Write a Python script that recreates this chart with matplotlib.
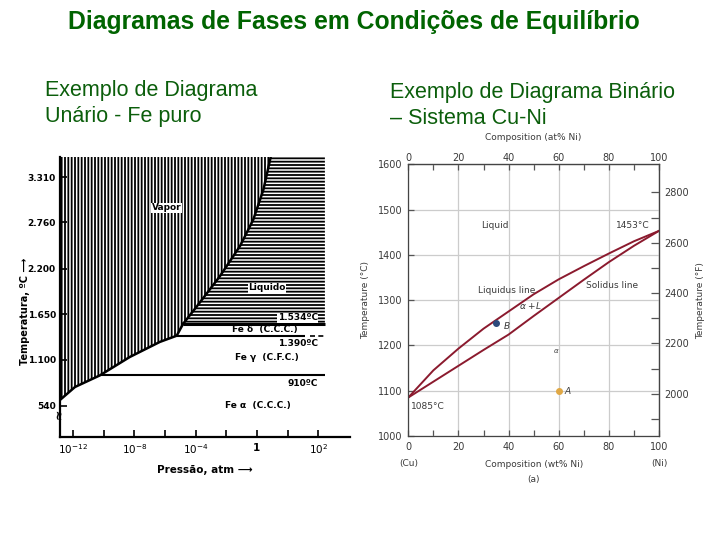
import matplotlib.pyplot as plt
import numpy as np

plt.rcParams['font.family'] = ['DejaVu Sans']
plt.rcParams['hatch.linewidth'] = 1.3

# --- Fe puro (diagrama unario) ---
# eixo x: posicao na escala de pressao (uma divisao = uma marca do grafico)
pressao_marcas = [0, 2, 4, 6, 8]
pressao_rotulos = ['$10^{-12}$', '$10^{-8}$', '$10^{-4}$', '1', '$10^{2}$']
pressao_menores = [1, 3, 5, 7]
temp_marcas = [540, 1100, 1650, 2200, 2760, 3310]
temp_rotulos = ['540', '1.100', '1.650', '2.200', '2.760', '3.310']

# curva solido/vapor e liquido/vapor
sub_x = [-0.43, 0.06, 0.87, 1.85, 2.83, 3.38, 3.59]
sub_t = [613, 770, 910, 1133, 1315, 1390, 1534]
vap_x = [3.59, 4.03, 4.79, 5.45, 5.88, 6.21, 6.45]
vap_t = [1534, 1741, 2109, 2476, 2793, 3154, 3552]

# transicoes a temperatura constante
trans_t = [1534, 1390, 910]
trans_x0 = [3.59, 3.38, 0.87]
trans_x1 = [8.22, 7.57, 8.22]

# --- Cu-Ni (diagrama binario) ---
wt_ni = [0, 10, 20, 30, 40, 50, 60, 70, 80, 90, 100]
liquidus = [1085, 1145, 1193, 1237, 1275, 1313, 1346, 1375, 1403, 1430, 1453]
solidus = [1085, 1120, 1155, 1190, 1224, 1265, 1305, 1345, 1384, 1420, 1453]
ponto_A = (60, 1100)
ponto_B = (35, 1250)

verde = '#006400'
verde2 = '#0b5e0b'

fig = plt.figure(figsize=(7.2, 5.4), dpi=100)

fig.text(354 / 720, 1 - 29 / 540, 'Diagramas de Fases em Condições de Equilíbrio',
         ha='center', va='baseline', fontsize=17.8, fontweight='bold', color=verde,
         family='Liberation Sans')
sub = dict(ha='left', va='baseline', fontsize=15.5, color=verde2, family='Liberation Sans')
fig.text(45 / 720, 1 - 96 / 540, 'Exemplo de Diagrama', **sub)
fig.text(45 / 720, 1 - 122 / 540, 'Unário - Fe puro', **sub)
fig.text(390 / 720, 1 - 98 / 540, 'Exemplo de Diagrama Binário', **sub)
fig.text(390 / 720, 1 - 124 / 540, '– Sistema Cu-Ni', **sub)

# ---------------- grafico da esquerda ----------------
ax1 = fig.add_axes([60 / 720, 1 - 437 / 540, 290 / 720, 280 / 540])
xmin, xmax = -0.43, 9.04
tmin, tmax = 165, 3552
borda = 8.22

# regiao do vapor (hachura vertical)
vx = [xmin] + sub_x + vap_x[1:] + [xmin]
vy = [tmax] + sub_t + vap_t[1:] + [tmax]
ax1.fill(vx, vy, facecolor='white', edgecolor='black', hatch='|||||', lw=0)
# regiao do liquido (hachura horizontal)
lx = vap_x + [borda, borda]
ly = vap_t + [tmax, vap_t[0]]
ax1.fill(lx, ly, facecolor='white', edgecolor='black', hatch='-----', lw=0)

ax1.plot(sub_x, sub_t, color='black', lw=1.8)
ax1.plot(vap_x, vap_t, color='black', lw=1.8)
ax1.hlines(trans_t, trans_x0, trans_x1, colors='black', lw=[2.2, 1.5, 1.5])
ax1.plot([7.75, 8.2], [1390, 1390], color='black', lw=1.2, ls=(0, (3, 2)))

ax1.set_xlim(xmin, xmax)
ax1.set_ylim(tmin, tmax)
ax1.set_xticks(pressao_marcas, pressao_rotulos)
ax1.set_xticks(pressao_menores, minor=True)
ax1.set_yticks(temp_marcas, temp_rotulos)
ax1.tick_params(axis='both', which='both', direction='in', length=5, width=1.2,
                labelsize=6.5)
ax1.tick_params(axis='y', pad=3)
ax1.tick_params(axis='x', labelsize=7.5, pad=4)
for lab in ax1.get_xticklabels() + ax1.get_yticklabels():
    lab.set_fontweight('bold')
for s in ['top', 'right']:
    ax1.spines[s].set_visible(False)
for s in ['left', 'bottom']:
    ax1.spines[s].set_linewidth(1.6)
ax1.set_xlabel('Pressão, atm ⟶', fontsize=7.5, fontweight='bold', labelpad=6)
ax1.set_ylabel('Temperatura, ºC ⟶', fontsize=7, fontweight='bold')
ax1.yaxis.set_label_coords(-0.105, 0.45)
ax1.text(xmin, 450, '≈', ha='center', va='center', fontsize=9, fontweight='bold',
         rotation=90, clip_on=False)

kw = dict(fontsize=6.5, fontweight='bold', ha='center', va='center')
ax1.text(3.06, 2936, 'Vapor', bbox=dict(fc='white', ec='none', pad=0.5), **kw)
ax1.text(6.33, 1968, 'Liquido', bbox=dict(fc='white', ec='none', pad=0.5), **kw)
ax1.text(7.34, 1605, '1.534ºC', bbox=dict(fc='white', ec='none', pad=0.3), **kw)
ax1.text(6.26, 1460, 'Fe δ  (C.C.C.)', **kw)
ax1.text(7.34, 1302, '1.390ºC', **kw)
ax1.text(6.33, 1121, 'Fe γ  (C.F.C.)', **kw)
ax1.text(7.5, 818, '910ºC', **kw)
ax1.text(6.04, 540, 'Fe α  (C.C.C.)', **kw)

# ---------------- grafico da direita ----------------
cinza = '#3a3a3a'
ax2 = fig.add_axes([408.3 / 720, 1 - 436 / 540, 250.7 / 720, 271.7 / 540])
ax2.plot(wt_ni, liquidus, color='#8b1a2e', lw=1.4)
ax2.plot(wt_ni, solidus, color='#8b1a2e', lw=1.4)
ax2.plot(*ponto_B, 'o', color='#2c4a7c', ms=4)
ax2.plot(*ponto_A, 'o', color='#e0a845', ms=4)

ax2.set_xlim(0, 100)
ax2.set_ylim(1000, 1600)
ax2.set_xticks(range(0, 101, 20))
ax2.set_xticks(range(10, 100, 20), minor=True)
ax2.set_yticks(range(1000, 1601, 100))
ax2.grid(True, which='major', color='#cccccc', lw=0.9)
ax2.set_axisbelow(True)
ax2.tick_params(which='both', direction='in', length=4, width=0.9, colors='#555555',
                labelcolor=cinza, labelsize=7, top=True, pad=4)
for s in ax2.spines.values():
    s.set_color('#444444')
    s.set_linewidth(0.9)

sec_x = ax2.secondary_xaxis('top')
sec_x.set_xticks(range(0, 101, 20))
sec_x.tick_params(direction='in', length=0, labelcolor=cinza, labelsize=7, pad=1)
sec_x.set_xlabel('Composition (at% Ni)', fontsize=6.5, color=cinza, labelpad=9)

sec_y = ax2.secondary_yaxis('right', functions=(lambda c: c * 9 / 5 + 32,
                                                   lambda f: (f - 32) * 5 / 9))
sec_y.set_yticks(range(2000, 2801, 200))
sec_y.set_yticks(range(1900, 2800, 200), minor=True)
sec_y.tick_params(which='both', direction='in', length=6, width=0.9, colors='#555555',
                  labelcolor=cinza, labelsize=7, pad=4)
sec_y.set_ylabel('Temperature (°F)', fontsize=6.5, color=cinza, labelpad=5)

ax2.set_xlabel('Composition (wt% Ni)', fontsize=6.5, color=cinza, labelpad=6)
ax2.set_ylabel('Temperature (°C)', fontsize=6.5, color=cinza, labelpad=6)
ax2.text(0, -0.1, '(Cu)', transform=ax2.transAxes, ha='center', va='center',
         fontsize=6.5, color=cinza)
ax2.text(1, -0.1, '(Ni)', transform=ax2.transAxes, ha='center', va='center',
         fontsize=6.5, color=cinza)
ax2.text(0.5, -0.16, '(a)', transform=ax2.transAxes, ha='center', va='center',
         fontsize=6.5, color=cinza)

kw2 = dict(fontsize=6.5, color=cinza, ha='center', va='center')
ax2.text(34.6, 1464, 'Liquid', **kw2)
ax2.text(89.7, 1464, '1453°C', **kw2)
ax2.text(39.2, 1322, 'Liquidus line', **kw2)
ax2.text(81.4, 1332, 'Solidus line', **kw2)
ax2.text(48.8, 1289, r'$\alpha$ +$L$', **kw2)
ax2.text(39.2, 1243, r'$B$', **kw2)
ax2.text(59.2, 1188, r'$\alpha$', fontsize=5, color=cinza, ha='center', va='center')
ax2.text(63.6, 1100, r'$A$', **kw2)
ax2.text(7.6, 1066, '1085°C', **kw2)

fig.savefig('out.png', dpi=100)
